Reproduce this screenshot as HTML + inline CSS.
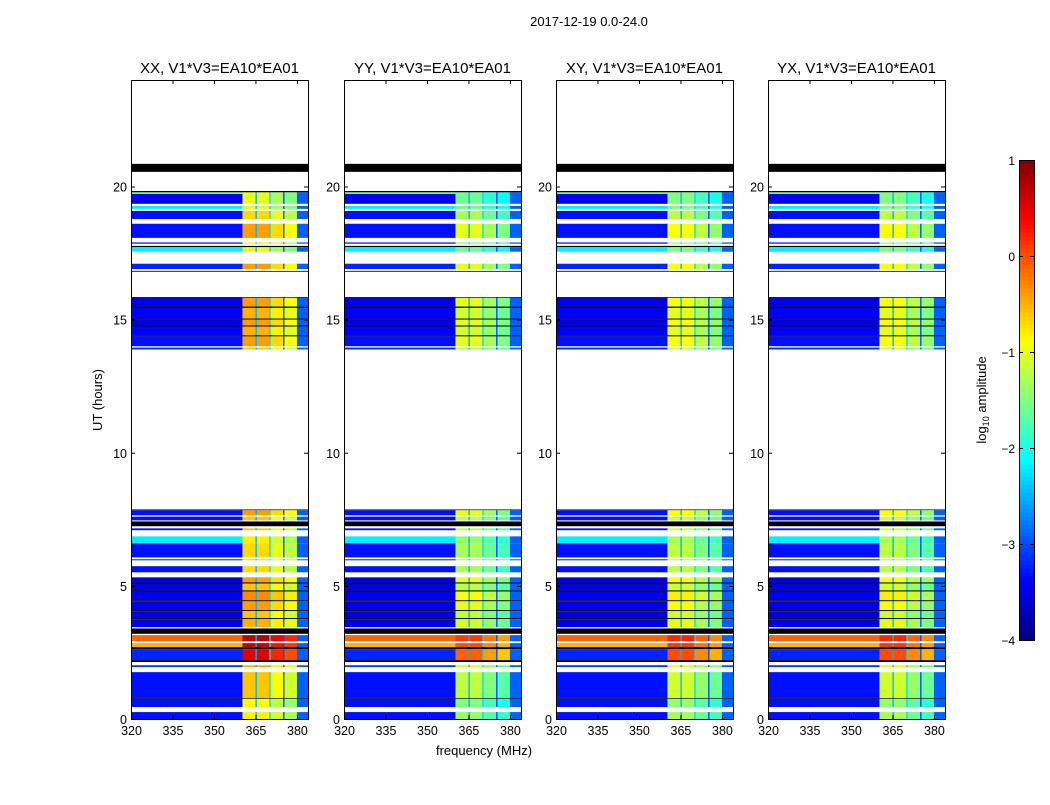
<!DOCTYPE html>
<html><head><meta charset="utf-8"><style>
body{margin:0;background:#fff;}
svg text{font-family:"Liberation Sans",sans-serif;}
</style></head><body>
<svg id="fig" width="1050" height="800" xmlns="http://www.w3.org/2000/svg">
<text x="589" y="26" font-size="13" text-anchor="middle">2017-12-19 0.0-24.0</text>
<text x="484" y="755" font-size="13" text-anchor="middle">frequency (MHz)</text>
<text transform="translate(102,400) rotate(-90)" font-size="13" text-anchor="middle">UT (hours)</text>
<text transform="translate(986,400) rotate(-90)" font-size="13" text-anchor="middle">log<tspan font-size="9" dy="3">10</tspan><tspan dy="-3"> amplitude</tspan></text>
</svg>
<script>
const panelTitles = ["XX, V1*V3=EA10*EA01","YY, V1*V3=EA10*EA01","XY, V1*V3=EA10*EA01","YX, V1*V3=EA10*EA01"];
const panelLefts = [131,344,556,768];
const bandOffset = [0,-0.6,-0.5,-0.5];
const xTicks = [320,335,350,365,380];
const yTicks = [0,5,10,15,20];
const cbTicks = [1,0,-1,-2,-3,-4];
const freqCols = [[320,360.3,"bg",0],[360.3,365,"band",0],[365,365.5,"fix",-2.5],[365.5,370,"band",0],[370,370.5,"fix",-2.3],[370.5,375,"band",-0.3],[375,375.5,"fix",-3],[375.5,380,"band",-0.5],[380,384,"fix",-2.9]];
const rows = [
[20.55,20.85,"K","K"],[19.78,19.83,"K","K"],[19.72,19.78,-1.5,-1],[19.35,19.72,-3.4,-1],
[19.16,19.27,-2.2,-1],[18.78,19.08,-3.3,-0.7],[18.07,18.6,-3.3,-0.4],[17.85,17.9,-3.2,-0.8],
[17.72,17.77,"K","K"],[17.55,17.72,-2.2,-1],[16.9,17.1,-3.2,-0.4],[16.8,16.83,"K","K"],
[15.82,15.85,"K","K"],[15.49,15.82,-3.5,-0.4],[15.44,15.49,"K","K"],[15.04,15.44,-3.4,-0.5],
[15.0,15.04,"K","K"],[14.78,15.0,-3.5,-0.4],[14.74,14.78,"K","K"],[14.41,14.74,-3.4,-0.5],
[14.37,14.41,"K","K"],[14.0,14.37,-3.3,-0.4],[13.88,13.95,-3.2,-0.6],
[7.84,7.87,"K","K"],[7.65,7.84,-3.3,-0.4],[7.46,7.6,-3.3,-0.6],[7.24,7.42,"K","K"],[7.09,7.16,-3.3,-0.6],
[6.6,6.86,-2.2,-0.8],[6.07,6.6,-3.3,-0.7],[5.96,6.0,-3.2,-0.7],[5.51,5.74,-3.3,-0.7],
[5.13,5.32,-3.5,-0.4],[5.09,5.13,"K","K"],[4.83,5.09,-3.5,-0.6],[4.79,4.83,"K","K"],[4.46,4.79,-3.4,-0.3],
[4.42,4.46,"K","K"],[4.09,4.42,-3.5,-0.4],[4.05,4.09,"K","K"],[3.79,4.05,-3.5,-0.6],[3.75,3.79,"K","K"],[3.45,3.75,-3.5,-0.5],
[3.2,3.4,"K","K"],[2.92,3.15,-0.1,0.7],[2.7,2.85,-0.5,0.6],[2.62,2.7,"K","K"],[2.21,2.62,-3.2,0.5],[2.14,2.21,"K","K"],
[1.95,2.02,-3.1,-0.5],[0.79,1.76,-3.3,-0.6],[0.76,0.79,"K","K"],[0.45,0.76,-3.3,-0.9],[0,0.26,-3.3,-0.8]
];
const NS="http://www.w3.org/2000/svg";
const svg=document.getElementById('fig');
const top0=80,bot=719,pw=177;
function yScale(h){return bot-h*(bot-top0)/24;}
function xScale(f,L){return L+(f-320)*pw/64;}
function jet(v){let t=(v+4)/5;t=Math.max(0,Math.min(1,t));
 const c=x=>Math.round(255*Math.max(0,Math.min(1,1.5-Math.abs(4*t-x))));
 return `rgb(${c(3)},${c(2)},${c(1)})`;}
function mk(tag,attrs,parent){const e=document.createElementNS(NS,tag);for(const k in attrs)e.setAttribute(k,attrs[k]);(parent||svg).appendChild(e);return e;}
panelLefts.forEach((L,p)=>{
 const g=mk('g',{});
 
 
 rows.forEach(r=>{
  freqCols.forEach(fc=>{
   let col;
   if(r[2]==="K")col="#000";
   else{let v;
    if(fc[2]==="bg")v=r[2];
    else if(fc[2]==="band")v=r[3]+fc[3]+bandOffset[p];
    else v=fc[3];
    col=jet(v);}
   const x0=xScale(fc[0],L),x1=xScale(fc[1],L),y0=yScale(r[1]),y1=yScale(r[0]);
   const c=mk('rect',{x:x0,y:y0,width:x1-x0+0.3,height:Math.max(0.8,y1-y0),fill:col},g);
   
   
  });
 });
 const fr=mk('rect',{x:L+0.5,y:top0+0.5,width:pw,height:bot-top0,fill:'none',stroke:'#000','stroke-width':1},g);
 
 
 const t=mk('text',{x:L+pw/2,y:73,'font-size':15,'text-anchor':'middle'},g);t.textContent=panelTitles[p];
 
 
 xTicks.forEach(f=>{const x=xScale(f,L)+0.5;
  mk('line',{x1:x,x2:x,y1:bot,y2:bot-4,stroke:'#000'},g);mk('line',{x1:x,x2:x,y1:top0,y2:top0+4,stroke:'#000'},g);
  const tx=mk('text',{x:x,y:bot+16,'font-size':12.5,'text-anchor':'middle'},g);tx.textContent=f;
  
  });
 yTicks.forEach(h=>{const y=yScale(h)+0.5;
  mk('line',{x1:L,x2:L+4,y1:y,y2:y,stroke:'#000'},g);mk('line',{x1:L+pw,x2:L+pw-4,y1:y,y2:y,stroke:'#000'},g);
  const ty=mk('text',{x:L-4,y:y+4.5,'font-size':12.5,'text-anchor':'end'},g);ty.textContent=h;
  
  });
});
const cb=mk('g',{});


const cbTop=160,cbBot=640,cbX=1019,cbW=15;
for(let i=0;i<120;i++){const v0=-4+5*i/120,v1=-4+5*(i+1)/120;
 const y0=cbBot-(v1+4)*(cbBot-cbTop)/5;
 mk('rect',{x:cbX,y:y0,width:cbW,height:(cbBot-cbTop)/120+0.5,fill:jet((v0+v1)/2)},cb);}
mk('rect',{x:cbX+0.5,y:cbTop+0.5,width:cbW,height:cbBot-cbTop,fill:'none',stroke:'#000'},cb);
cbTicks.forEach(v=>{const y=cbBot-(v+4)*(cbBot-cbTop)/5+0.5;
 mk('line',{x1:cbX,x2:cbX+4,y1:y,y2:y,stroke:'#000'},cb);mk('line',{x1:cbX+cbW,x2:cbX+cbW-4,y1:y,y2:y,stroke:'#000'},cb);
 const t=mk('text',{x:cbX-4,y:y+4.5,'font-size':12,'text-anchor':'end'},cb);t.textContent=v<0?'\u2212'+(-v):v;
 
 });
</script>
</body></html>
